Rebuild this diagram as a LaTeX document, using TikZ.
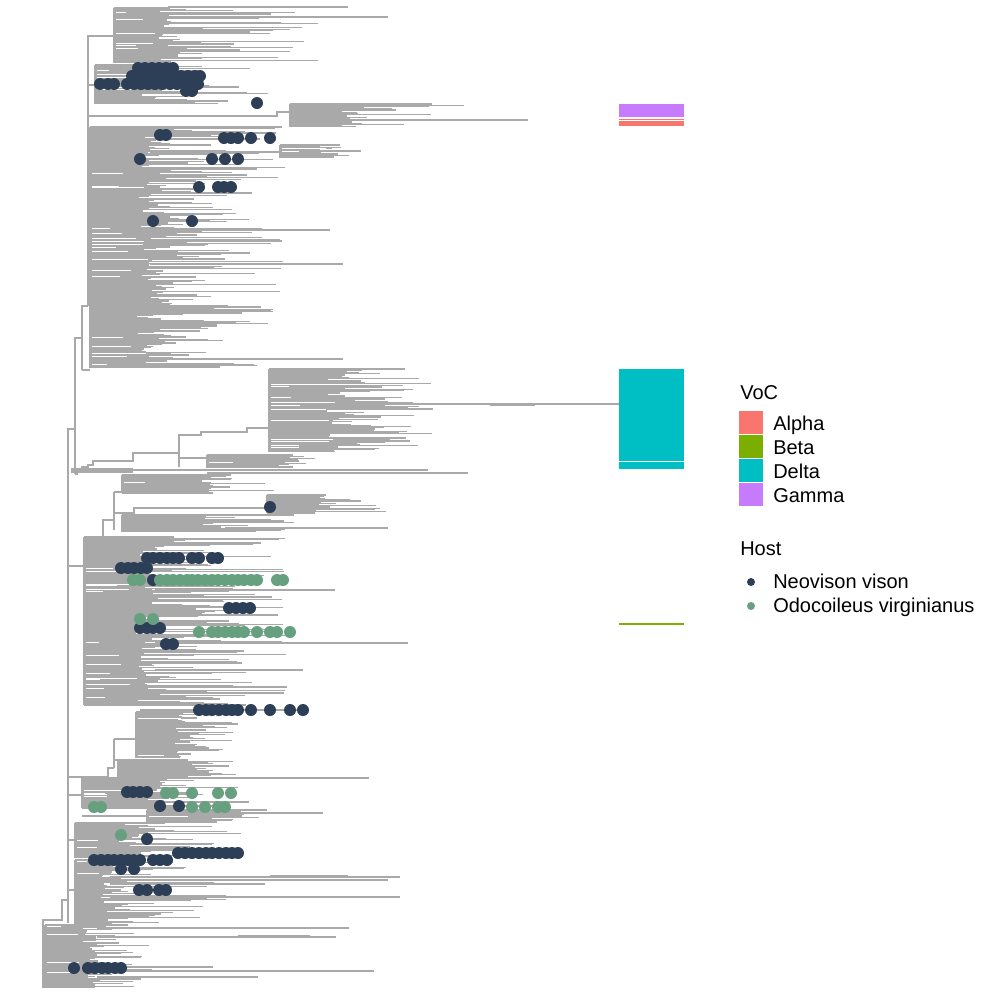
\documentclass[tikz,border=0pt]{standalone}
\usepackage{fontspec}
\setmainfont{Liberation Sans}
\usetikzlibrary{positioning}
\definecolor{carbol}{HTML}{A9A9A9}
\definecolor{cvison}{HTML}{2D3E57}
\definecolor{cvirgin}{HTML}{66A07F}
\definecolor{calpha}{HTML}{F8766D}
\definecolor{cbeta}{HTML}{7CAE00}
\definecolor{cdelta}{HTML}{00BFC4}
\definecolor{cgamma}{HTML}{C77CFF}
\tikzset{
  rama/.style={draw=carbol, line width=0.8pt},
  masa/.style={fill=carbol},
  hueco/.style={draw=white, line width=0.6pt},
  visondot/.style={fill=cvison},
  virgindot/.style={fill=cvirgin},
  leyenda/.style={font=\fontsize{15}{17}\selectfont, anchor=base west, inner sep=0pt},
}
% clade: ytop, ybot, xroot, xfill, xreach
\newcommand{\clado}[5]{%
  \fill[masa] (#3,#1) rectangle ({#3+0.7*(#4-#3)},#2);
  \pgfmathtruncatemacro\nfil{(#2-#1)/1.2}
  \foreach \i in {0,...,\nfil}{%
    \pgfmathsetmacro\yy{#1+1.2*\i}
    \pgfmathsetmacro\xfin{#4-(#4-#3)*0.3*rnd+(#5-#4)*pow(rnd,2)}
    \draw[rama] (#3,\yy) -- (\xfin,\yy);
  }
  \foreach \i in {0,...,\nfil}{%
    \pgfmathsetmacro\sihue{rnd<0.1 ? 1 : 0}
    \ifdim\sihue pt>0.5pt
      \pgfmathsetmacro\yy{#1+1.2*\i+0.6}
      \pgfmathsetmacro\xhue{#3+(#4-#3)*(0.2+0.7*rnd)}
      \draw[hueco] (#3+2,\yy) -- (\xhue,\yy);
    \fi
  }
  \draw[rama] (#3,#1) -- (#3,#2);
}
% row of host dots: style, y, list of x
\newcommand{\puntos}[3]{\foreach \xx in {#3} \fill[#1] (\xx,#2) circle[radius=4.5pt];}

\begin{document}
\begin{tikzpicture}[x=0.75pt,y=-0.75pt]
  \useasboundingbox (0,0) rectangle (1000,1000);
  \pgfmathsetseed{2021}

  % backbone
  \draw[rama] (43,988) -- (43,920) -- (62,920) -- (62,900) -- (68,900);
  \draw[rama] (68,923) -- (68,429) -- (75,429);
  \draw[rama] (75,474) -- (75,338) -- (82,338);
  \draw[rama] (82,370) -- (82,306) -- (88,306);
  \draw[rama] (88,306) -- (88,36) -- (114,36);
  \draw[rama] (88,85) -- (95,85);
  \draw[rama] (88,116) -- (277,116) -- (277,112) -- (290,112);
  \draw[rama] (82,370) -- (90,370);

  % top clade
  \clado{8}{63}{114}{168}{330}
  \draw[rama] (168,7) -- (348,7);
  \draw[rama] (168,17) -- (388,17);
  \clado{65}{104}{95}{160}{270}
  \clado{104}{127}{290}{360}{470}
  \draw[rama] (360,120) -- (528,120);
  \clado{127}{368}{90}{155}{300}
  \draw[rama] (150,152) -- (280,152);
  \clado{145}{158}{280}{335}{400}
  \draw[rama] (150,264) -- (343,264);
  \draw[rama] (150,359) -- (343,359);
  \draw[rama] (150,230) -- (330,230);

  % delta clade
  \draw[rama] (75,474) -- (77,474) -- (77,469) -- (82,469) -- (82,467) -- (88,467)
    -- (88,465) -- (93,465) -- (93,461) -- (133,461) -- (133,453) -- (179,453)
    -- (179,435) -- (201,435) -- (201,432) -- (247,432) -- (247,428) -- (269,428);
  \draw[rama] (179,453) -- (179,467);
  \draw[rama] (179,458) -- (207,458);
  \clado{369}{452}{269}{350}{440}
  \draw[rama] (330,404) -- (619,404);
  \draw[carbol, line width=1.5pt] (490,405) -- (535,405);
  \draw[rama] (330,409) -- (433,409);
  \clado{455}{468}{207}{290}{330}
  \fill[masa] (71,468) rectangle (133,473);
  \draw[rama] (133,470) -- (428,470);
  \draw[rama] (207,473) -- (468,473);

  % clade C
  \draw[rama] (68,566) -- (84,566);
  \draw[rama] (84,540) -- (103,540) -- (103,520) -- (114,520);
  \draw[rama] (114,492) -- (114,530);
  \draw[rama] (114,492) -- (122,492);
  \draw[rama] (114,513) -- (134,513) -- (134,508) -- (267,508);
  \clado{475}{493}{122}{220}{290}
  \clado{495}{513}{267}{320}{415}
  \clado{515}{532}{122}{225}{330}
  \draw[rama] (225,528) -- (388,528);
  \clado{537}{705}{84}{155}{300}
  \draw[rama] (155,590) -- (335,590);
  \draw[rama] (155,643) -- (408,643);
  \draw[rama] (155,670) -- (303,670);

  % clade D
  \draw[rama] (68,777) -- (108,777) -- (108,768) -- (114,768);
  \draw[rama] (114,739) -- (114,768);
  \draw[rama] (114,739) -- (136,739);
  \draw[rama] (114,760) -- (118,760);
  \clado{712}{758}{136}{186}{250}
  \draw[rama] (140,710) -- (303,710);
  \clado{760}{777}{118}{210}{260}
  \draw[rama] (68,795) -- (82,795);
  \clado{778}{808}{82}{160}{260}
  \draw[rama] (160,778) -- (369,778);
  \draw[rama] (82,816) -- (147,816);
  \clado{810}{822}{147}{225}{300}
  \draw[rama] (225,813) -- (323,813);
  \draw[rama] (68,840) -- (75,840);
  \clado{823}{858}{75}{135}{250}

  % clade E
  \draw[rama] (68,890) -- (75,890);
  \clado{860}{925}{75}{110}{230}
  \draw[rama] (110,877) -- (400,877);
  \draw[carbol, line width=1.5pt] (270,876) -- (348,876);
  \draw[rama] (110,880) -- (388,880);
  \draw[rama] (110,897) -- (400,897);
  \draw[rama] (110,884) -- (265,884);
  \clado{925}{988}{45}{97}{160}
  \draw[rama] (97,928) -- (349,928);
  \draw[rama] (97,937) -- (336,937);
  \draw[carbol, line width=1.5pt] (238,936) -- (310,936);
  \draw[rama] (97,967) -- (213,967);
  \draw[rama] (97,971) -- (374,971);
  \draw[rama] (97,977) -- (258,977);

  % host dots
  \puntos{visondot}{84}{100,108,114,127,134,141,148,155,162,170,177,185,192,198}
  \puntos{visondot}{76}{132,139,146,153,160,167,174,181,188,195,200}
  \puntos{visondot}{68}{138,145,152,159,166,173}
  \puntos{visondot}{91}{186,192}
  \puntos{visondot}{103}{257}
  \puntos{visondot}{135}{160,166}
  \puntos{visondot}{138}{224,231,238,251,270}
  \puntos{visondot}{159}{140,212,225,238}
  \puntos{visondot}{187}{199,218,224,231}
  \puntos{visondot}{221}{153,192}
  \puntos{visondot}{507}{270}
  \puntos{visondot}{558}{147,153,160,167,173,179,192,199,212,218}
  \puntos{visondot}{568}{121,128,134,141,147}
  \puntos{visondot}{580}{153}
  \puntos{visondot}{608}{229,236,243,250}
  \puntos{visondot}{628}{140,147,153,160}
  \puntos{visondot}{644}{166,173}
  \puntos{visondot}{710}{199,206,212,219,226,232,238,251,270,290,303}
  \puntos{visondot}{792}{127,133,140,147}
  \puntos{visondot}{806}{160,179}
  \puntos{visondot}{839}{147}
  \puntos{visondot}{853}{178,185,192,199,206,212,219,226,232,238}
  \puntos{visondot}{860}{94,101,108,114,121,128,134,140,153,160,167}
  \puntos{visondot}{869}{121,134}
  \puntos{visondot}{890}{139,147,159,166}
  \puntos{visondot}{968}{74,88,95,102,108,115,121}
  \puntos{virgindot}{580}{133,140,160,167,173,180,187,192,198,205,212,218,225,232,238,244,251,257,277,283}
  \puntos{virgindot}{619}{140,153}
  \puntos{virgindot}{632}{199,212,218,225,232,238,244,257,270,277,290}
  \puntos{virgindot}{793}{166,173,192,218,231}
  \puntos{virgindot}{807}{94,101,192,205,218,225}
  \puntos{virgindot}{835}{121}

  % VoC strip
  \fill[cgamma] (619,104) rectangle (684,117);
  \fill[calpha] (619,118.5) rectangle (684,120);
  \fill[calpha] (619,121) rectangle (684,126);
  \fill[cdelta] (619,369) rectangle (684,461);
  \fill[cdelta] (619,462) rectangle (684,469);
  \draw[cbeta, line width=1.1pt] (619,624) -- (684,624);

  % legend
  \node[leyenda] (voc) at (740,399) {VoC};
  \fill[calpha] (739,411) rectangle (763,434);
  \fill[cbeta] (739,435) rectangle (763,458);
  \fill[cdelta] (739,459) rectangle (763,482);
  \fill[cgamma] (739,483) rectangle (763,506);
  \node[leyenda] (alpha) at (773,430) {Alpha};
  \node[leyenda] (beta) at (773,454) {Beta};
  \node[leyenda] (delta) at (773,478) {Delta};
  \node[leyenda] (gamma) at (773,502) {Gamma};
  \node[leyenda] (host) at (740,555) {Host};
  \fill[cvison] (751,582) circle[radius=3pt];
  \fill[cvirgin] (751,606) circle[radius=3pt];
  \node[leyenda] (vison) at (773,588) {Neovison vison};
  \node[leyenda] (virgin) at (773,612) {Odocoileus virginianus};
\end{tikzpicture}
\end{document}
